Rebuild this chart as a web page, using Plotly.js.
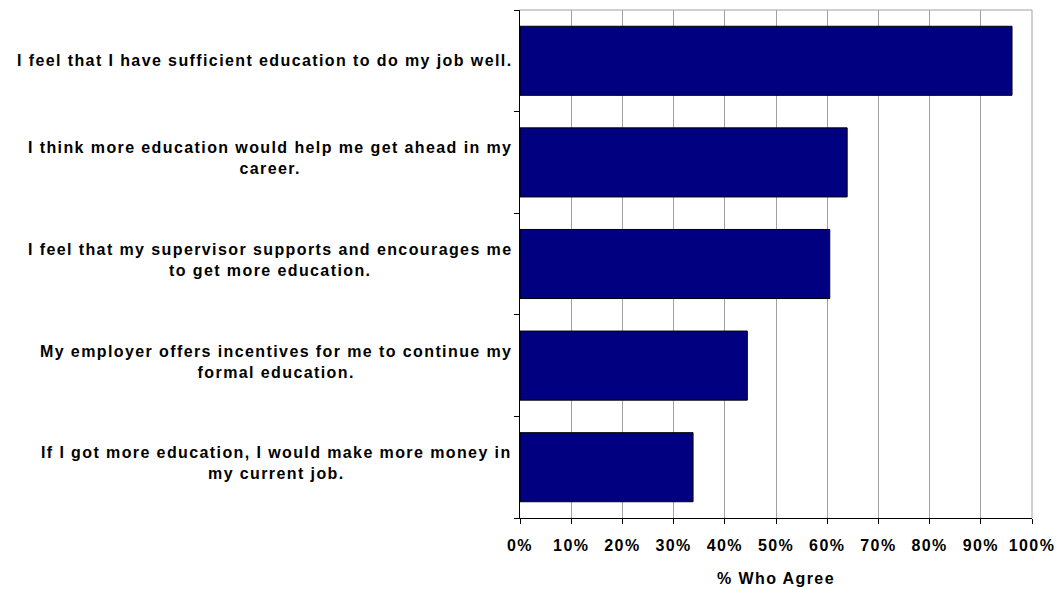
<!DOCTYPE html>
<html>
<head>
<meta charset="utf-8">
<script src="https://cdn.plot.ly/plotly-3.0.1.min.js"></script>
<style>
html,body{margin:0;padding:0;background:#fff;}
#chart{width:1060px;height:590px;}
svg text{letter-spacing:1.4px;}
</style>
</head>
<body>
<div id="chart"></div>
<script>
const categories = [
  "I feel that I have sufficient education to do my job well.",
  "I think more education would help me get ahead in my<br>career.",
  "I feel that my supervisor supports and encourages me<br>to get more education.",
  "My employer offers incentives for me to continue my<br>formal education.",
  "If I got more education, I would make more money in<br>my current job."
];
const values = [96.1, 63.9, 60.5, 44.4, 33.8];
const tickVals = [0,10,20,30,40,50,60,70,80,90,100];
const tickText = ["0%","10%","20%","30%","40%","50%","60%","70%","80%","90%","100%"];
const xTitle = "% Who Agree";

const font = {family: "Liberation Sans, Arial, sans-serif", size: 16, color: "#000"};

const trace = {
  type: "bar",
  orientation: "h",
  y: categories.map((c, i) => i),
  x: values,
  marker: {color: "#000080", line: {color: "#000", width: 1}},
  hoverinfo: "skip"
};

const annotations = categories.map((c, i) => ({
  xref: "paper", yref: "y", x: 0, y: i,
  xanchor: "right", yanchor: "middle", xshift: -6,
  yshift: c.indexOf("<br>") >= 0 ? 4 : 0,
  align: "center", showarrow: false,
  text: "<b>" + c + "</b>",
  font: font
}));

const layout = {
  width: 1060, height: 590,
  margin: {l: 520, r: 28, t: 10, b: 72},
  paper_bgcolor: "#fff", plot_bgcolor: "#fff",
  showlegend: false,
  bargap: 0.32,
  font: font,
  xaxis: {
    range: [0, 100], tickvals: tickVals, ticktext: tickText.map(t => "<b>" + t + "</b>"),
    showgrid: true, gridcolor: "#a0a0a0", gridwidth: 1,
    showline: true, linecolor: "#000", linewidth: 1,
    ticks: "outside", ticklen: 5, tickcolor: "#000",
    ticklabelstandoff: 8,
    zeroline: false, fixedrange: true,
    title: {text: "<b>" + xTitle + "</b>", font: font, standoff: 19},
    tickfont: font
  },
  yaxis: {
    type: "linear", range: [4.5, -0.5],
    tickvals: [-0.5, 0.5, 1.5, 2.5, 3.5, 4.5], showticklabels: false,
    showgrid: false, zeroline: false,
    showline: true, linecolor: "#000", linewidth: 1,
    ticks: "outside", ticklen: 5, tickcolor: "#000", fixedrange: true
  },
  shapes: [
    {type: "line", xref: "paper", yref: "paper", x0: 0, x1: 1, y0: 1, y1: 1, line: {color: "#a0a0a0", width: 1}},
    {type: "line", xref: "paper", yref: "paper", x0: 1, x1: 1, y0: 0, y1: 1, line: {color: "#a0a0a0", width: 1}}
  ],
  annotations: annotations
};

Plotly.newPlot("chart", [trace], layout, {displayModeBar: false, staticPlot: true});
</script>
</body>
</html>
